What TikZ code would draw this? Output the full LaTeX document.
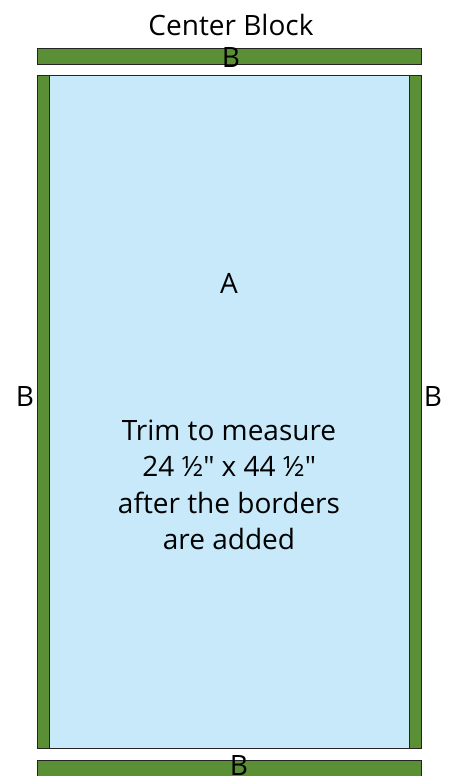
\documentclass[tikz,border=0pt]{standalone}
\usepackage{fontspec}
\setmainfont{Open Sans}
\definecolor{borderg}{RGB}{90,143,53}
\definecolor{lblue}{RGB}{200,233,250}
\definecolor{edge}{RGB}{35,35,35}
\begin{document}
\begin{tikzpicture}[x=1pt,y=-1pt,
  strip/.style={draw=edge,line width=1pt,fill=borderg},
  lbl/.style={inner sep=0pt,font=\fontsize{28}{32}\selectfont}]
\useasboundingbox (0,0) rectangle (449,776);
\begin{scope}
\clip (0,0) rectangle (449,776);
\node[lbl] (title) at (231,25) {Center Block};
\draw[strip] (37,49) rectangle (421,65);
\draw[draw=edge,line width=1pt,fill=lblue] (37,75) rectangle (421,748);
\draw[strip] (37,75) rectangle (49,748);
\draw[strip] (409,75) rectangle (421,748);
\draw[strip] (37,760) rectangle (421,782);
\node[lbl] (btop) at (231,58) {B};
\node[lbl] (bbot) at (239,765) {B};
\end{scope}
\node[lbl] (bleft) at (25,397) {B};
\node[lbl] (bright) at (433,397) {B};
\node[lbl] (a) at (229,283) {A};
\node[lbl,align=center,font=\fontsize{28}{36.5}\selectfont] (txt) at (229,485)
  {Trim to measure\\24 ½″ x 44 ½″\\after the borders\\are added};
\end{tikzpicture}
\end{document}
